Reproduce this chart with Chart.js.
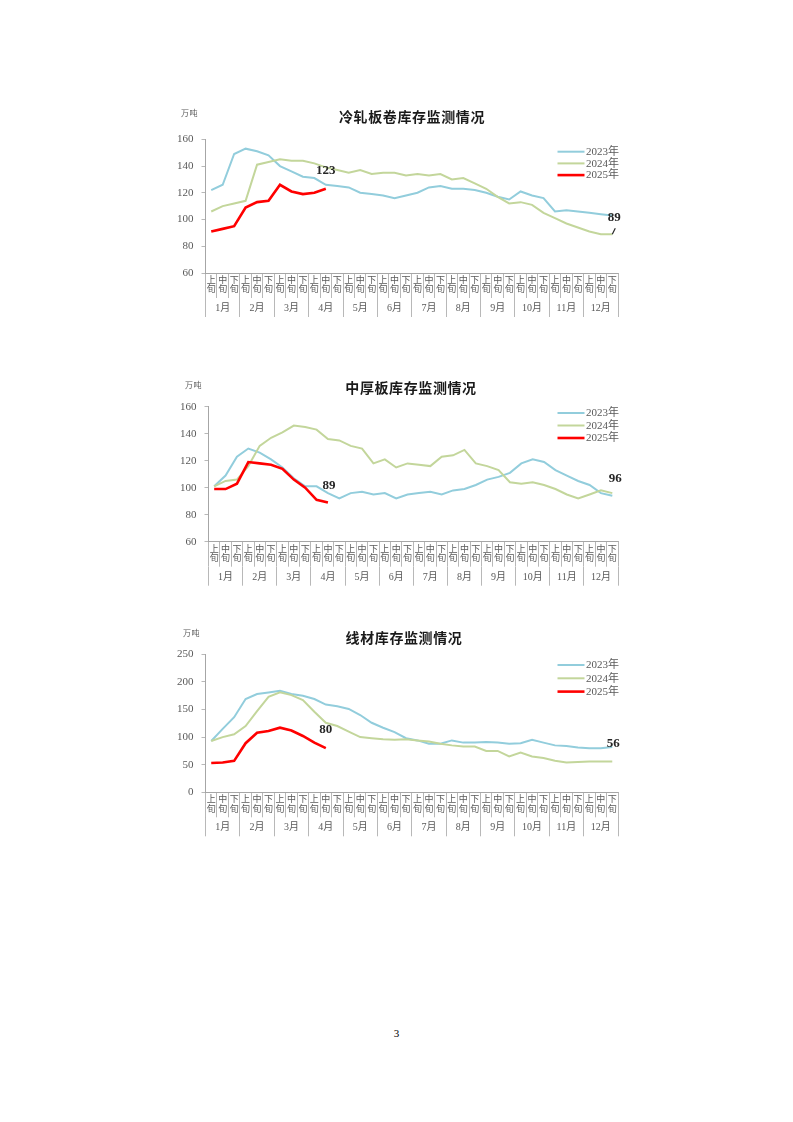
<!DOCTYPE html>
<html>
<head>
<meta charset="utf-8">
<script src="https://cdn.jsdelivr.net/npm/chart.js@4.4.0/dist/chart.umd.min.js"></script>
<style>
  html, body { margin: 0; padding: 0; background: #fff; }
  body { width: 793px; height: 1122px; position: relative; overflow: hidden; }
  canvas { position: absolute; left: 165px; }
  #pageNo { position: absolute; left: 0; width: 793px; top: 1027px; text-align: center;
            font: 11px "Liberation Serif", serif; color: #000; }
</style>
</head>
<body>
<canvas id="c1" width="465" height="225" style="top:100px"></canvas>
<canvas id="c2" width="465" height="224" style="top:370px"></canvas>
<canvas id="c3" width="465" height="224" style="top:620px"></canvas>
<div id="pageNo">3</div>
<script>
// 分类：旬 + 月
const xunLabels = [['上', '旬'], ['中', '旬'], ['下', '旬']];
const months = ['1月', '2月', '3月', '4月', '5月', '6月', '7月', '8月', '9月', '10月', '11月', '12月'];
const seriesNames = ['2023年', '2024年', '2025年'];

// 冷轧板卷库存（万吨）
const cold2023 = [122, 126, 149, 153, 151, 148, 140, 136, 132, 131, 126, 125, 124, 120, 119, 118, 116, 118,
                  120, 124, 125, 123, 123, 122, 120, 117, 115, 121, 118, 116, 106, 107, 106, 105, 104, 103];
const cold2024 = [106, 110, 112, 114, 141, 143, 145, 144, 144, 142, 139, 137, 135, 137, 134, 135, 135, 133,
                  134, 133, 134, 130, 131, 127, 123, 117, 112, 113, 111, 105, 101, 97, 94, 91, 89, 89];
const cold2025 = [91, 93, 95, 109, 113, 114, 126, 121, 119, 120, 123];

// 中厚板库存（万吨）
const plate2023 = [101, 109, 123, 129, 126, 121, 115, 107, 101, 101, 96, 92, 96, 97, 95, 96, 92, 95,
                   96, 97, 95, 98, 99, 102, 106, 108, 111, 118, 121, 119, 113, 109, 105, 102, 96, 94];
const plate2024 = [101, 105, 106, 116, 131, 137, 141, 146, 145, 143, 136, 135, 131, 129, 118, 121, 115, 118,
                   117, 116, 123, 124, 128, 118, 116, 113, 104, 103, 104, 102, 99, 95, 92, 95, 98, 96];
const plate2025 = [99, 99, 103, 119, 118, 117, 114, 106, 100, 91, 89];

// 线材库存（万吨）
const wire2023 = [93, 115, 136, 169, 178, 181, 184, 178, 175, 169, 159, 156, 151, 140, 126, 117, 109, 98,
                  94, 88, 88, 94, 90, 90, 91, 90, 88, 89, 95, 90, 85, 84, 81, 80, 80, 82];
const wire2024 = [93, 100, 105, 120, 147, 173, 181, 176, 167, 146, 126, 120, 110, 100, 98, 96, 95, 96,
                  94, 92, 88, 85, 83, 83, 75, 75, 65, 72, 65, 62, 57, 54, 55, 56, 56, 56];
const wire2025 = [53, 54, 57, 89, 108, 111, 117, 112, 102, 90, 80];

const categories = [];
months.forEach(() => xunLabels.forEach(l => categories.push(l)));

const CANVAS_LEFT = 165;
const CANVAS_W = 465;
const PLOT_RIGHT = 618;
const XUN_AXIS_H = 25;     // 旬 标签区高度
const MONTH_AXIS_H = 19;   // 月 标签区高度
const AXIS_COLOR = '#a6a6a6';
const TEXT_COLOR = '#595959';
const SERIF = '"Liberation Serif", "Noto Sans CJK SC", serif';
const COLORS = ['#92cddc', '#c3d69b', '#ff0000'];
const WIDTHS = [2, 2, 2.6];

// 标题、单位、图例、数据标签
function makeDecor(c) {
  return {
    id: 'decor',
    afterDraw(chart) {
      const ctx = chart.ctx;
      const ox = CANVAS_LEFT, oy = c.top;
      ctx.save();
      ctx.textBaseline = 'middle';

      ctx.fillStyle = '#1a1a1a';
      ctx.font = 'bold 14px "Noto Sans CJK SC"';
      ctx.textAlign = 'center';
      ctx.letterSpacing = '0.6px';
      ctx.fillText(c.title, c.titleX - ox, c.titleY - oy);

      ctx.fillStyle = TEXT_COLOR;
      ctx.font = '8px "Noto Sans CJK SC"';
      ctx.textAlign = 'left';
      ctx.letterSpacing = '0.5px';
      ctx.fillText('万吨', c.unitX - ox, c.unitY - oy);
      ctx.letterSpacing = '0px';

      ctx.font = '11px ' + SERIF;
      chart.data.datasets.forEach((ds, i) => {
        const y = c.legendY - oy + i * c.legendGap;
        ctx.strokeStyle = ds.borderColor;
        ctx.lineWidth = ds.borderWidth;
        ctx.beginPath();
        ctx.moveTo(557.5 - ox, y);
        ctx.lineTo(584.5 - ox, y);
        ctx.stroke();
        ctx.fillStyle = TEXT_COLOR;
        ctx.fillText(ds.label, 586 - ox, y + 0.5);
      });

      ctx.font = 'bold 13px ' + SERIF;
      ctx.fillStyle = '#262626';
      ctx.textAlign = 'center';
      c.marks.forEach(m => {
        const meta = chart.getDatasetMeta(m.ds);
        const data = chart.data.datasets[m.ds].data;
        const pt = meta.data[data.length - 1];
        ctx.fillText(String(data[data.length - 1]), pt.x + m.dx, pt.y + m.dy);
        if (m.leader) {
          ctx.strokeStyle = '#262626';
          ctx.lineWidth = 1.2;
          ctx.beginPath();
          ctx.moveTo(pt.x, pt.y);
          ctx.lineTo(pt.x + 3, pt.y - 6);
          ctx.stroke();
        }
      });
      ctx.restore();
    }
  };
}

function buildChart(c) {
  const canvasH = document.getElementById(c.id).height;
  const datasets = c.series.map((s, i) => ({
    label: seriesNames[i],
    data: s,
    borderColor: COLORS[i],
    backgroundColor: COLORS[i],
    borderWidth: WIDTHS[i],
    pointRadius: 0,
    tension: 0,
    fill: false,
    order: 2 - i
  }));

  new Chart(document.getElementById(c.id), {
    type: 'line',
    data: { labels: categories, datasets: datasets },
    options: {
      responsive: false,
      animation: false,
      events: [],
      layout: {
        padding: {
          left: 0,
          right: CANVAS_LEFT + CANVAS_W - PLOT_RIGHT,
          top: c.plotTop - c.top,
          bottom: canvasH - (c.plotBottom - c.top) - XUN_AXIS_H - MONTH_AXIS_H
        }
      },
      plugins: {
        legend: { display: false },
        title: { display: false },
        tooltip: { enabled: false }
      },
      scales: {
        x: {
          type: 'category',
          offset: true,
          weight: 0,
          afterFit: s => { s.height = XUN_AXIS_H; },
          grid: { offset: true, drawOnChartArea: false, tickLength: XUN_AXIS_H, color: AXIS_COLOR, lineWidth: 0.8 },
          border: { color: AXIS_COLOR, width: 1 },
          ticks: {
            autoSkip: false, maxRotation: 0, minRotation: 0, padding: -22.2,
            color: TEXT_COLOR, font: { family: SERIF, size: 9, lineHeight: 1.05 }
          }
        },
        xm: {
          type: 'category',
          axis: 'x',
          position: 'bottom',
          labels: months,
          offset: true,
          weight: 1,
          afterFit: s => { s.height = MONTH_AXIS_H; },
          grid: { offset: true, drawOnChartArea: false, tickLength: MONTH_AXIS_H, color: AXIS_COLOR, lineWidth: 0.8 },
          border: { display: false },
          ticks: {
            autoSkip: false, maxRotation: 0, minRotation: 0, padding: -14.6,
            color: TEXT_COLOR, font: { family: SERIF, size: 10, lineHeight: 1.2 }
          }
        },
        y: {
          min: c.yMin,
          max: c.yMax,
          afterFit: s => { s.width = c.axisLeft - CANVAS_LEFT; },
          grid: { drawOnChartArea: false, tickLength: 4, color: AXIS_COLOR, lineWidth: 0.8 },
          border: { color: AXIS_COLOR, width: 1 },
          ticks: {
            stepSize: c.yStep, padding: 8, color: TEXT_COLOR,
            font: { family: SERIF, size: 11 }
          }
        }
      }
    },
    plugins: [makeDecor(c)]
  });
}

buildChart({
  id: 'c1', top: 100, plotTop: 139.3, plotBottom: 273, axisLeft: 205.5,
  series: [cold2023, cold2024, cold2025], yMin: 60, yMax: 160, yStep: 20,
  title: '冷轧板卷库存监测情况', titleX: 412, titleY: 117, unitX: 181, unitY: 113,
  legendY: 151.7, legendGap: 11.7,
  marks: [{ ds: 2, dx: 0, dy: -18 }, { ds: 1, dx: 2, dy: -16.5, leader: true }]
});

buildChart({
  id: 'c2', top: 370, plotTop: 406.7, plotBottom: 541.7, axisLeft: 208.5,
  series: [plate2023, plate2024, plate2025], yMin: 60, yMax: 160, yStep: 20,
  title: '中厚板库存监测情况', titleX: 411, titleY: 388, unitX: 185, unitY: 385,
  legendY: 413, legendGap: 12.5,
  marks: [{ ds: 2, dx: 1, dy: -17 }, { ds: 1, dx: 3, dy: -14.5 }]
});

buildChart({
  id: 'c3', top: 620, plotTop: 654.3, plotBottom: 792.3, axisLeft: 205.5,
  series: [wire2023, wire2024, wire2025], yMin: 0, yMax: 250, yStep: 50,
  title: '线材库存监测情况', titleX: 404, titleY: 638, unitX: 183, unitY: 633,
  legendY: 665, legendGap: 13.3,
  marks: [{ ds: 2, dx: 0, dy: -18 }, { ds: 1, dx: 1, dy: -18 }]
});
</script>
</body>
</html>
